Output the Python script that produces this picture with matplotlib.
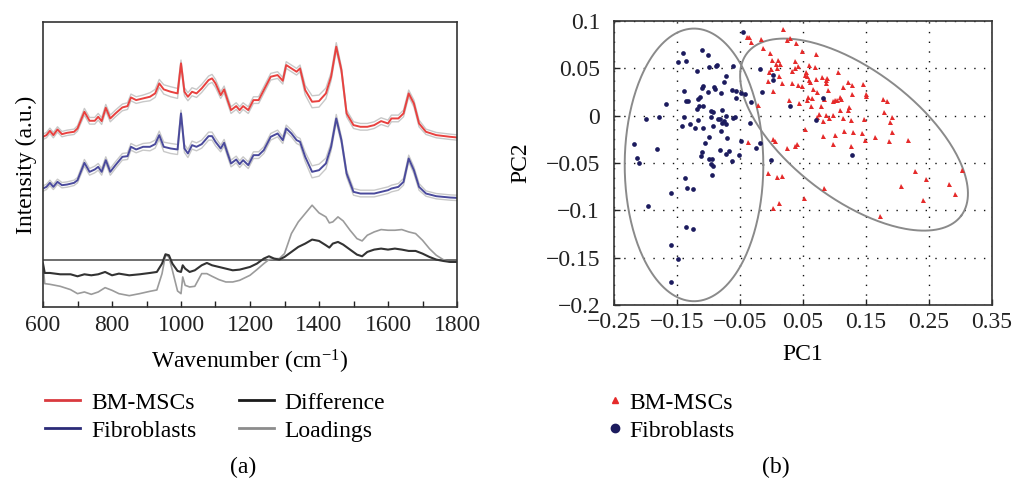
import numpy as np
import matplotlib
matplotlib.use("Agg")
import matplotlib.pyplot as plt
from matplotlib.lines import Line2D
from matplotlib.ticker import FixedLocator, FixedFormatter, MultipleLocator

plt.rcParams['font.family'] = ['Liberation Serif', 'DejaVu Serif']
plt.rcParams['mathtext.fontset'] = 'custom'
plt.rcParams['mathtext.rm'] = 'Liberation Serif'
plt.rcParams['mathtext.it'] = 'Liberation Serif:italic'

# ---------------- (a) Raman spectra (arbitrary units) ----------------
wn_s = [600, 610, 620, 630, 642, 655, 670, 690, 700, 720, 735, 750, 760, 770, 782,
        795, 810, 830, 845, 855, 870, 890, 910, 925, 937, 950, 970, 990, 1000, 1010,
        1020, 1032, 1045, 1060, 1080, 1090, 1100, 1115, 1125, 1135, 1145, 1160, 1170,
        1180, 1195, 1210, 1225, 1240, 1260, 1280, 1295, 1305, 1320, 1335, 1345, 1360,
        1380, 1400, 1420, 1435, 1450, 1465, 1480, 1500, 1520, 1540, 1560, 1580, 1600,
        1610, 1630, 1645, 1660, 1675, 1690, 1710, 1740, 1780, 1800]
bm_mscs = [510, 515, 528, 515, 532, 518, 522, 525, 535, 585, 558, 558, 570, 557, 597,
           565, 580, 598, 602, 628, 620, 625, 630, 640, 670, 652, 645, 640, 730, 645,
           630, 645, 640, 655, 680, 685, 670, 635, 652, 620, 590, 602, 590, 602, 590,
           620, 620, 650, 690, 695, 678, 725, 715, 705, 715, 650, 615, 617, 640, 690,
           780, 710, 580, 545, 540, 540, 545, 557, 550, 565, 565, 580, 640, 610, 550,
           525, 515, 510, 508]
fibroblasts = [355, 360, 372, 360, 375, 365, 367, 372, 380, 432, 405, 412, 420, 405, 440,
               405, 425, 450, 452, 480, 472, 480, 480, 488, 515, 480, 475, 472, 580, 475,
               460, 485, 480, 488, 512, 512, 495, 475, 492, 460, 430, 442, 428, 440, 425,
               455, 455, 470, 510, 520, 500, 535, 520, 500, 495, 450, 405, 410, 430, 480,
               565, 500, 400, 345, 340, 340, 340, 345, 350, 355, 360, 375, 445, 410, 360,
               340, 332, 328, 327]
band_sd = [8, 8, 8, 8, 8, 8, 8, 8, 8, 10, 10, 10, 10, 10, 10,
           10, 10, 10, 10, 10, 10, 10, 12, 12, 12, 14, 15, 15, 10, 12,
           12, 12, 12, 12, 12, 12, 12, 10, 10, 10, 10, 10, 10, 10, 10,
           10, 10, 10, 10, 10, 10, 10, 10, 10, 10, 14, 18, 18, 16, 12,
           12, 10, 10, 10, 10, 10, 10, 10, 10, 10, 10, 10, 10, 10, 10,
           8, 8, 8, 8]

wn_d = [600, 605, 620, 650, 680, 700, 720, 740, 760, 780, 800, 820, 850, 880, 910,
        930, 945, 955, 965, 975, 990, 1000, 1005, 1012, 1025, 1040, 1060, 1075, 1090,
        1110, 1130, 1150, 1170, 1200, 1220, 1240, 1255, 1270, 1285, 1300, 1320, 1340,
        1360, 1380, 1400, 1420, 1430, 1440, 1455, 1470, 1490, 1510, 1525, 1540, 1560,
        1580, 1600, 1620, 1640, 1660, 1680, 1700, 1720, 1740, 1760, 1780, 1800]
difference = [130, 102, 102, 98, 98, 92, 98, 95, 98, 105, 95, 100, 95, 98, 102,
              105, 130, 158, 155, 130, 108, 105, 125, 115, 105, 110, 125, 132, 125,
              120, 115, 110, 112, 120, 130, 145, 152, 145, 142, 150, 165, 180,
              190, 202, 198, 185, 178, 190, 195, 187, 172, 157, 152, 165, 172,
              175, 172, 175, 172, 168, 168, 160, 150, 142, 138, 135, 135]
loadings = [130, 70, 68, 62, 52, 40, 45, 38, 45, 58, 50, 40, 34, 40, 47,
            51, 100, 155, 150, 110, 48, 40, 90, 65, 60, 62, 100, 100, 92,
            82, 75, 75, 80, 95, 112, 130, 142, 145, 145, 160, 220, 255,
            280, 305, 282, 270, 252, 255, 270, 258, 230, 205, 198, 215, 225,
            232, 230, 230, 232, 225, 220, 200, 175, 155, 142, 135, 135]
zero_level = 140
spec_xticks = [600, 800, 1000, 1200, 1400, 1600, 1800]

# ---------------- (b) PCA scores ----------------
fib_pc1 = [-0.046, -0.140, -0.136, -0.149, -0.110, -0.101, -0.119, -0.100, -0.087, -0.088,
           -0.061, -0.072, -0.075, -0.139, -0.133, -0.136, -0.113, -0.109, -0.111, -0.101,
           -0.091, -0.089, -0.080, -0.063, -0.057, -0.049, -0.057, -0.042, -0.033, -0.015,
           -0.019, 0.002, 0.002, -0.168, -0.117, -0.115, -0.119, -0.108, -0.096, -0.093,
           -0.078, -0.072, -0.058, -0.061, -0.139, -0.179, -0.200, -0.142, -0.130, -0.121,
           -0.117, -0.109, -0.096, -0.093, -0.085, -0.081, -0.079, -0.076, -0.073, -0.080,
           -0.071, -0.100, -0.106, -0.111, -0.112, -0.100, -0.094, -0.096, -0.093, -0.082,
           -0.073, -0.068, -0.063, -0.051, -0.034, -0.019, -0.024, -0.001, -0.218, -0.213,
           -0.210, -0.181, -0.094, -0.137, -0.134, -0.125, -0.160, -0.196, -0.135, -0.124,
           -0.160, -0.148, -0.160, 0.029, 0.071, 0.082, 0.128, -0.048]
fib_pc2 = [0.088, 0.066, 0.058, 0.057, 0.069, 0.064, 0.047, 0.051, 0.054, 0.052,
           0.052, 0.042, 0.036, 0.026, 0.016, 0.015, 0.020, 0.031, 0.029, 0.025,
           0.030, 0.028, 0.024, 0.027, 0.026, 0.024, 0.019, 0.023, 0.014, 0.025,
           0.049, 0.043, 0.038, 0.012, 0.018, 0.010, 0.007, 0.010, 0.005, 0.004,
           0.006, 0.000, -0.001, -0.002, -0.001, -0.001, -0.004, -0.011, -0.009, -0.013,
           -0.005, -0.013, -0.001, -0.011, -0.003, -0.004, -0.008, -0.006, -0.009, -0.016,
           -0.024, -0.023, -0.029, -0.038, -0.043, -0.046, -0.046, -0.051, -0.053, -0.036,
           -0.040, -0.037, -0.048, -0.042, -0.008, -0.029, -0.034, -0.047, -0.030, -0.045,
           -0.050, -0.035, -0.063, -0.066, -0.076, -0.077, -0.082, -0.095, -0.118, -0.120,
           -0.137, -0.151, -0.176, 0.010, -0.005, 0.019, -0.042, -0.027]
msc_pc1 = [-0.039, -0.036, -0.033, -0.016, -0.013, 0.019, 0.030, 0.024, 0.039, 0.048,
           -0.002, 0.070, 0.000, 0.011, 0.007, 0.013, -0.001, -0.004, 0.009, 0.032,
           0.037, 0.038, 0.042, 0.060, 0.069, 0.054, 0.057, 0.060, 0.061, 0.048,
           0.033, 0.042, 0.016, 0.002, -0.006, 0.012, 0.080, 0.087, 0.088, 0.105,
           0.090, 0.073, 0.066, 0.065, 0.058, 0.057, 0.062, 0.078, 0.084, 0.098,
           0.101, 0.109, 0.113, 0.121, 0.127, 0.128, 0.123, 0.122, 0.109, 0.114,
           0.126, 0.098, 0.092, 0.087, 0.076, 0.072, 0.053, 0.044, 0.027, -0.021,
           0.146, 0.150, 0.150, 0.147, 0.144, 0.148, 0.129, 0.115, 0.101, 0.098,
           0.082, 0.126, 0.164, 0.177, 0.184, 0.178, 0.192, 0.188, 0.192, 0.187,
           0.217, 0.228, 0.206, 0.246, 0.240, 0.281, 0.292, 0.303, 0.173, 0.083,
           0.051, 0.012, 0.002, 0.009, 0.017, -0.005, 0.005, 0.003, 0.024, 0.037,
           0.040, -0.038, 0.087, 0.104, 0.110, 0.053, 0.071, 0.082]
msc_pc2 = [0.083, 0.083, 0.078, 0.081, 0.072, 0.092, 0.082, 0.080, 0.077, 0.068,
           0.066, 0.065, 0.059, 0.059, 0.055, 0.055, 0.049, 0.046, 0.050, 0.047,
           0.058, 0.050, 0.052, 0.053, 0.051, 0.046, 0.042, 0.038, 0.036, 0.031,
           0.034, 0.032, 0.034, 0.026, 0.037, 0.042, 0.041, 0.038, 0.040, 0.046,
           0.027, 0.025, 0.028, 0.019, 0.020, 0.017, 0.010, 0.010, 0.018, 0.015,
           0.017, 0.020, 0.030, 0.036, 0.032, 0.023, 0.009, 0.006, 0.006, -0.002,
           -0.005, 0.001, -0.002, 0.001, 0.002, -0.001, -0.014, 0.013, 0.017, 0.011,
           0.033, 0.023, 0.021, -0.003, -0.018, -0.026, -0.017, -0.016, -0.020, -0.030,
           -0.021, -0.032, -0.023, 0.018, 0.015, 0.004, -0.001, -0.007, -0.017, -0.027,
           -0.026, -0.058, -0.074, -0.067, -0.089, -0.072, -0.083, -0.057, -0.106, -0.076,
           -0.087, -0.092, -0.098, -0.065, -0.064, -0.061, -0.027, -0.025, -0.034, -0.032,
           -0.030, -0.028, 0.035, 0.017, 0.018, 0.043, 0.039, -0.006]

# confidence ellipses: centre and the two semi-axis vectors (data units)
fib_ell_center = (-0.123, -0.052)
fib_ell_axes = ((0.110, 0.0), (0.0, 0.144))
msc_ell_center = (0.131, -0.020)
msc_ell_axes = ((0.170, -0.0858), (-0.0616, -0.0541))

pca_xticks = [-0.25, -0.15, -0.05, 0.05, 0.15, 0.25, 0.35]
pca_xlabels = ['\u22120.25', '\u22120.15', '\u22120.05', '0.05', '0.15', '0.25', '0.35']
pca_yticks = [0.1, 0.05, 0, -0.05, -0.1, -0.15, -0.2]
pca_ylabels = ['0.1', '0.05', '0', '\u22120.05', '\u22120.1', '\u22120.15', '\u22120.2']

# ---------------- drawing ----------------
RED = '#e8413f'
BLUE = '#4a4a9c'
BAND = '#c8c8c8'
DIFF = '#333333'
LOAD = '#9b9b9b'
SC_RED = '#e52a2a'
SC_BLUE = '#1c1b5e'
FS = 17

fig = plt.figure(figsize=(10.15, 4.82), dpi=100)

ax1 = fig.add_axes([43 / 1015, 1 - 307 / 482, 414 / 1015, 285 / 482])
wn_s_a = np.array(wn_s)
sd = np.array(band_sd)
for series, col in ((bm_mscs, RED), (fibroblasts, BLUE)):
    s = np.array(series)
    ax1.plot(wn_s_a, s + sd, color=BAND, lw=1.0)
    ax1.plot(wn_s_a, s - sd, color=BAND, lw=1.0)
    ax1.plot(wn_s_a, s, color=col, lw=1.4)
ax1.axhline(zero_level, color='#555555', lw=1.2)
ax1.plot(wn_d, loadings, color=LOAD, lw=1.2)
ax1.plot(wn_d, difference, color=DIFF, lw=1.5)
ax1.set_xlim(600, 1800)
ax1.set_ylim(0, 854)
ax1.set_yticks([])
ax1.xaxis.set_major_locator(FixedLocator(spec_xticks))
ax1.xaxis.set_minor_locator(MultipleLocator(100))
ax1.tick_params(axis='x', which='both', direction='in', length=4, width=1,
                labelsize=FS, pad=6, colors='#222222')
for sp in ax1.spines.values():
    sp.set_color('#333333')
    sp.set_linewidth(1.2)
ax1.set_xlabel('Wavenumber (cm$^{-1}$)', fontsize=FS, labelpad=8)
ax1.set_ylabel('Intensity (a.u.)', fontsize=FS, labelpad=4)

ax2 = fig.add_axes([614 / 1015, 1 - 305 / 482, 378 / 1015, 284 / 482])
ax2.set_xlim(-0.25, 0.35)
ax2.set_ylim(-0.2, 0.1)
ax2.xaxis.set_major_locator(FixedLocator(pca_xticks))
ax2.xaxis.set_major_formatter(FixedFormatter(pca_xlabels))
ax2.yaxis.set_major_locator(FixedLocator(pca_yticks))
ax2.yaxis.set_major_formatter(FixedFormatter(pca_ylabels))
ax2.tick_params(direction='in', length=4, width=1, labelsize=FS, colors='#222222')
ax2.tick_params(axis='y', pad=10)
ax2.tick_params(axis='x', pad=5)
ax2.grid(True, color='#111111', linestyle=(0, (1, 6)), linewidth=1.0)
for sp in ax2.spines.values():
    sp.set_color('#333333')
    sp.set_linewidth(1.2)

t = np.linspace(0, 2 * np.pi, 300)
for c, (u, v) in ((fib_ell_center, fib_ell_axes), (msc_ell_center, msc_ell_axes)):
    ex = c[0] + u[0] * np.cos(t) + v[0] * np.sin(t)
    ey = c[1] + u[1] * np.cos(t) + v[1] * np.sin(t)
    ax2.plot(ex, ey, color='#8a8a8a', lw=1.4, zorder=3)

ax2.plot(msc_pc1, msc_pc2, linestyle='none', marker='^', ms=3.6, color=SC_RED,
         markeredgewidth=0, zorder=4)
ax2.plot(fib_pc1, fib_pc2, linestyle='none', marker='o', ms=3.4, color=SC_BLUE,
         markeredgewidth=0, zorder=4)
ax2.set_xlabel('PC1', fontsize=FS, labelpad=8)
ax2.set_ylabel('PC2', fontsize=FS, labelpad=10)

# legends
h1 = [Line2D([], [], color='#d93a3f', lw=2),
      Line2D([], [], color='#2b2b78', lw=2),
      Line2D([], [], color='#1a1a1a', lw=2),
      Line2D([], [], color='#8c8c8c', lw=2)]
fig.legend(h1, ['BM-MSCs', 'Fibroblasts', 'Difference', 'Loadings'], ncol=2,
           loc='upper left', bbox_to_anchor=(45 / 1015, 1 - 392 / 482), frameon=False,
           fontsize=FS, handlelength=1.5, handletextpad=0.45, columnspacing=1.8,
           labelspacing=0.28, borderpad=0, borderaxespad=0)
h2 = [Line2D([], [], linestyle='none', marker='^', ms=5, color=SC_RED),
      Line2D([], [], linestyle='none', marker='o', ms=6, color=SC_BLUE)]
fig.legend(h2, ['BM-MSCs', 'Fibroblasts'], loc='upper left',
           bbox_to_anchor=(606 / 1015, 1 - 392 / 482), frameon=False, fontsize=FS,
           handlelength=0.8, handletextpad=0.2, labelspacing=0.28, borderpad=0,
           borderaxespad=0)

fig.text(243 / 1015, 1 - 467 / 482, '(a)', ha='center', va='center', fontsize=FS)
fig.text(776 / 1015, 1 - 467 / 482, '(b)', ha='center', va='center', fontsize=FS)

fig.savefig('out.png', dpi=100)
